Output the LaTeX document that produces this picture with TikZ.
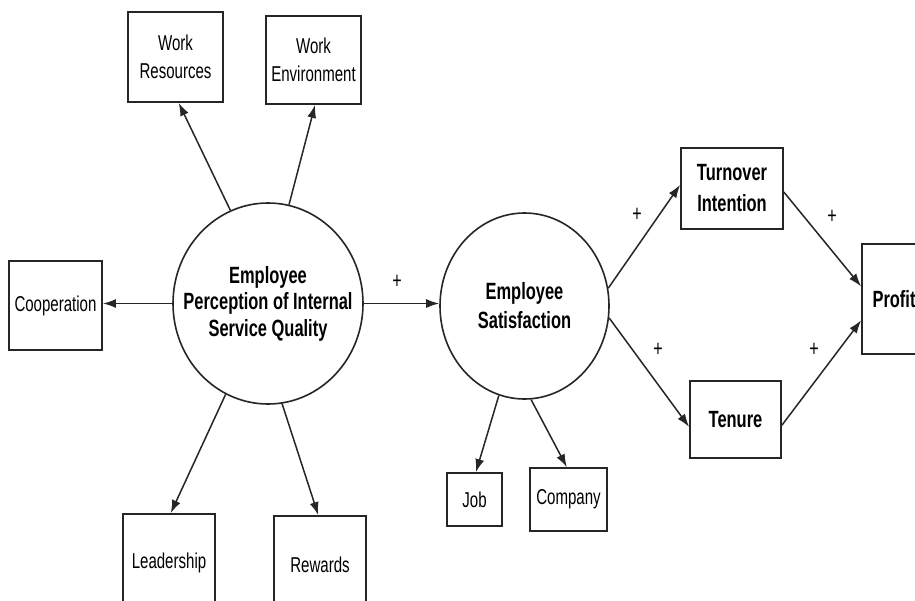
\documentclass[tikz,border=0pt]{standalone}
\usepackage{fontspec}
\setmainfont{Liberation Sans}[FakeStretch=0.7]
\usetikzlibrary{shapes.geometric,arrows.meta}
\begin{document}
\begin{tikzpicture}[x=1pt,y=-1pt,
  box/.style={draw=black!85, line width=1.8pt, rectangle, inner sep=0pt, align=center, text=black,
    font=\fontsize{21.5}{28}\selectfont},
  bbox/.style={box, font=\fontsize{23.5}{31}\bfseries\selectfont},
  oval/.style={draw=black!85, line width=1.6pt, ellipse, inner xsep=-30pt, inner ysep=0pt, align=center,
    font=\fontsize{23.5}{26.5}\bfseries\selectfont},
  arr/.style={draw=black!85, line width=1.5pt, -{Latex[length=13pt,width=9pt]}},
  plus/.style={inner sep=0pt, font=\fontsize{23}{23}\selectfont}]
\useasboundingbox (0,0) rectangle (915,600);
\clip (0,0) rectangle (915,600);
\fill[white] (0,0) rectangle (915,600);

% latent constructs
\node[oval, minimum width=190pt, minimum height=201pt] (ep) at (268,303.5)
  {Employee\\Perception of Internal\\Service Quality};
\node[oval, minimum width=169pt, minimum height=186pt, font=\fontsize{23.5}{29}\bfseries\selectfont] (es) at (524.5,306)
  {Employee\\Satisfaction};

% indicator boxes
\node[box, minimum width=95pt, minimum height=90pt] (wr) at (175.5,57) {Work\\Resources};
\node[box, minimum width=95pt, minimum height=88pt] (we) at (313.5,60) {Work\\Environment};
\node[box, minimum width=93pt, minimum height=89pt] (coop) at (55.5,305.5) {Cooperation};
\node[box, minimum width=92pt, minimum height=98pt] (lead) at (169,563) {Leadership};
\node[box, minimum width=92pt, minimum height=98pt] (rew) at (320,565) {Rewards};
\node[box, minimum width=55pt, minimum height=53pt] (job) at (474.5,499.5) {Job};
\node[box, minimum width=77pt, minimum height=63pt] (comp) at (568.5,499.5) {Company};

% outcome boxes
\node[bbox, minimum width=102pt, minimum height=81pt] (turn) at (732,188.5) {Turnover\\Intention};
\node[bbox, minimum width=91pt, minimum height=77pt] (ten) at (735.5,419.5) {Tenure};
\node[bbox, minimum width=64pt, minimum height=110pt] (prof) at (894,299) {Profit};

% connectors
\draw[arr] (ep.112) -- (wr.-86);
\draw[arr] (ep.78.5) -- (we.-88);
\draw[arr] (ep.west) -- (ep.west -| coop.east);
\draw[arr] (ep.-115) -- (lead.88);
\draw[arr] (ep.-82) -- (rew.92);
\draw[arr] (ep.east) -- (ep.east -| es.west);
\draw[arr] (es.12) -- (turn.176);
\draw[arr] (es.-8) -- (ten.189);
\draw[arr] (es.-106) -- (job.87);
\draw[arr] (es.-86.5) -- (comp.93);
\draw[arr] (turn.-4) -- (prof.159);
\draw[arr] (ten.-7) -- (prof.213);

% signs
\node[plus] (p1) at (397,282) {+};
\node[plus] (p2) at (637,215) {+};
\node[plus] (p3) at (832,217) {+};
\node[plus] (p4) at (658,350) {+};
\node[plus] (p5) at (814,350) {+};
\end{tikzpicture}
\end{document}
